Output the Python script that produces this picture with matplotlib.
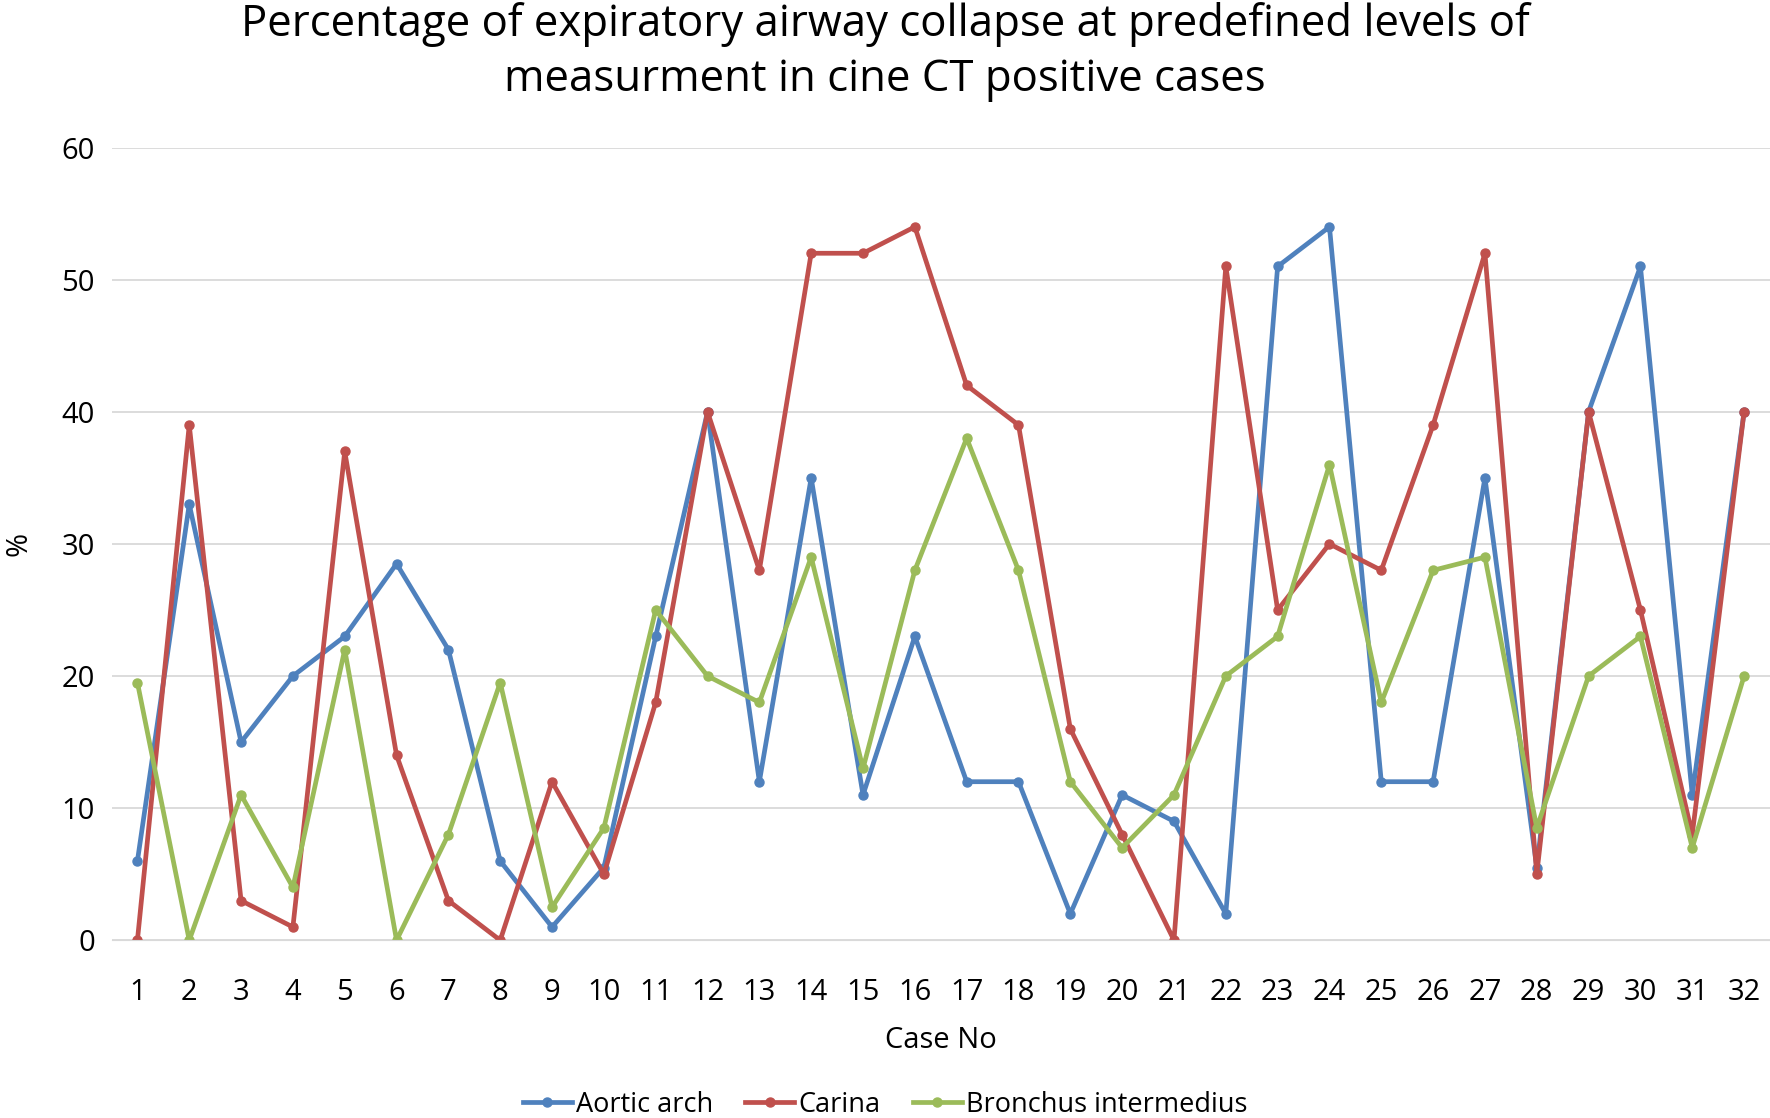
import numpy as np
import matplotlib
matplotlib.use("Agg")
import matplotlib.pyplot as plt

plt.rcParams['font.family'] = ['Open Sans', 'DejaVu Sans']

cases = list(range(1, 33))
aortic_arch = [6, 33, 15, 20, 23, 28.5, 22, 6, 1, 5.5, 23, 40, 12, 35, 11, 23,
               12, 12, 2, 11, 9, 2, 51, 54, 12, 12, 35, 5.5, 40, 51, 11, 40]
carina = [0, 39, 3, 1, 37, 14, 3, 0, 12, 5, 18, 40, 28, 52, 52, 54,
          42, 39, 16, 8, 0, 51, 25, 30, 28, 39, 52, 5, 40, 25, 8, 40]
bronchus = [19.5, 0, 11, 4, 22, 0, 8, 19.5, 2.5, 8.5, 25, 20, 18, 29, 13, 28,
            38, 28, 12, 7, 11, 20, 23, 36, 18, 28, 29, 8.5, 20, 23, 7, 20]

fig = plt.figure(figsize=(17.7, 11.18), dpi=100)
ax = fig.add_axes([0.063, 0.159, 0.937, 0.709])

ax.plot(cases, aortic_arch, color='#4F81BD', lw=3.4, marker='o', ms=6.5, label='Aortic arch')
ax.plot(cases, carina, color='#C0504D', lw=3.4, marker='o', ms=6.5, label='Carina')
ax.plot(cases, bronchus, color='#9BBB59', lw=3.4, marker='o', ms=6.5, label='Bronchus intermedius')

ax.set_xlim(0.5, 32.5)
ax.set_ylim(0, 60)
ax.set_yticks(range(0, 61, 10))
ax.set_xticks(cases)
ax.grid(axis='y', color='#D9D9D9', lw=1.3)
ax.set_axisbelow(True)
for s in ['top', 'right', 'left']:
    ax.spines[s].set_visible(False)
ax.spines['bottom'].set_color('#D9D9D9')
ax.tick_params(length=0, labelsize=21, colors='#000000')
ax.tick_params(axis='x', pad=27)
ax.tick_params(axis='y', pad=12)

ax.set_xlabel('Case No', fontsize=21, labelpad=14)
ax.set_ylabel('%', fontsize=21, labelpad=20)

fig.suptitle('Percentage of expiratory airway collapse at predefined levels of\n'
             'measurment in cine CT positive cases', fontsize=31.5, y=0.998, linespacing=1.3)

fig.legend(loc='center', bbox_to_anchor=(0.5, 0.012), ncol=3, frameon=False,
           fontsize=19.5, handlelength=1.8, columnspacing=1.2, handletextpad=0.15)

plt.savefig('out.png', dpi=100)
